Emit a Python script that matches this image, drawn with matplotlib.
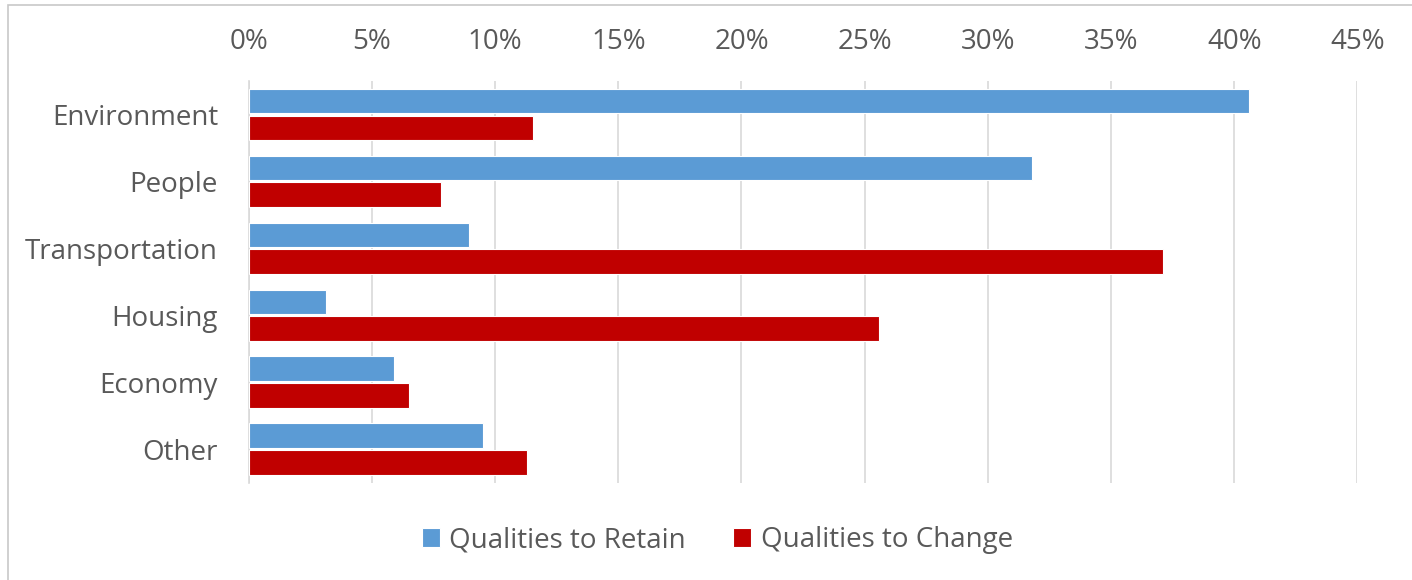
import numpy as np
import matplotlib.pyplot as plt
from matplotlib.patches import Rectangle
from matplotlib.ticker import FuncFormatter

categories = ["Environment", "People", "Transportation", "Housing", "Economy", "Other"]
retain = [40.6, 31.8, 8.95, 3.15, 5.9, 9.5]
change = [11.55, 7.8, 37.1, 25.6, 6.5, 11.3]
series_names = ["Qualities to Retain", "Qualities to Change"]

blue = "#5b9bd5"
red = "#c00000"
txt = "#595959"
plt.rcParams['font.family'] = ['Open Sans', 'DejaVu Sans']
fs = 20

fig = plt.figure(figsize=(14.12, 5.8), dpi=100)
ax = fig.add_axes([0.1761, 0.1678, 0.9614 - 0.1761, 0.8603 - 0.1678])

y = np.arange(len(categories))
h = 0.37
ax.barh(y - 0.2, retain, height=h, color=blue, edgecolor="white", linewidth=0.8,
        label=series_names[0], zorder=3)
ax.barh(y + 0.2, change, height=h, color=red, edgecolor="white", linewidth=0.8,
        label=series_names[1], zorder=3)

ax.set_xlim(0, 45)
ax.set_ylim(len(categories) - 0.5, -0.5)
ax.set_xticks(np.arange(0, 46, 5))
ax.xaxis.set_major_formatter(FuncFormatter(lambda v, p: f"{v:.0f}%"))
ax.xaxis.tick_top()
ax.set_yticks(y)
ax.set_yticklabels(categories)
ax.tick_params(axis="x", length=0, pad=18, labelsize=fs, labelcolor=txt)
ax.tick_params(axis="y", length=0, pad=22, labelsize=fs, labelcolor=txt)
ax.grid(axis="x", color="#d9d9d9", linewidth=1.2, zorder=0)
for s in ["top", "right", "bottom"]:
    ax.spines[s].set_visible(False)
ax.spines["left"].set_color("#d9d9d9")
ax.spines["left"].set_linewidth(1.2)

leg = fig.legend(loc="center", bbox_to_anchor=(0.508, 1 - 540 / 580), ncol=2, frameon=False,
                 fontsize=fs, handlelength=0.65, handleheight=0.65, handletextpad=0.35,
                 columnspacing=1.7)
for t in leg.get_texts():
    t.set_color(txt)

# chart border (top and left visible in the crop)
fig.patches.append(Rectangle((8 / 1412, -0.1), 1.2, 1 - 5 / 580 + 0.1, transform=fig.transFigure,
                             fill=False, edgecolor="#c8c8c8", linewidth=1.2))

fig.savefig("out.png", dpi=100)
